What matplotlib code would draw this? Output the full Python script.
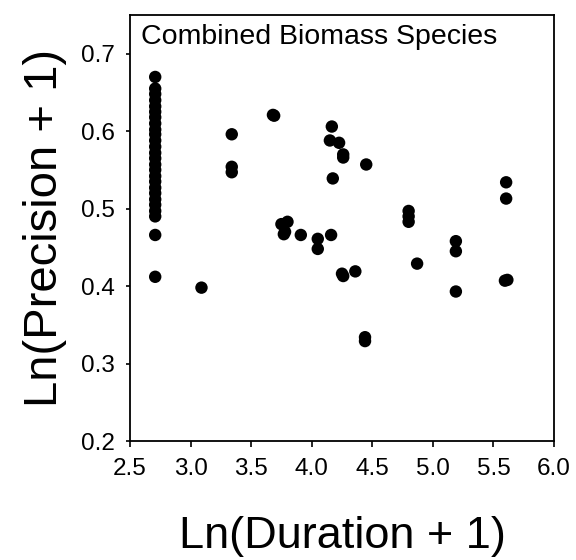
import matplotlib
matplotlib.use("Agg")
import matplotlib.pyplot as plt

plt.rcParams['font.family'] = ['Liberation Sans', 'DejaVu Sans']

# Ln(Duration + 1)
duration = [
    2.708, 2.708, 2.708, 2.708, 2.708, 2.708, 2.708, 2.708, 2.708, 2.708,
    2.708, 2.708, 2.708, 2.708, 2.708, 2.708, 2.708, 2.708, 2.708, 2.708,
    2.708, 2.708, 2.708, 2.708, 2.708, 2.708,
    3.09,
    3.34, 3.34, 3.34,
    3.68, 3.69,
    3.75, 3.80, 3.77, 3.78,
    3.91,
    4.05, 4.05,
    4.16, 4.166, 4.15, 4.226, 4.26, 4.26, 4.174,
    4.26, 4.25, 4.36,
    4.44, 4.44, 4.45,
    4.80, 4.80, 4.80, 4.87,
    5.19, 5.19, 5.19,
    5.605, 5.605, 5.595, 5.615,
]

# Ln(Precision + 1)
precision = [
    0.670, 0.655, 0.648, 0.640, 0.632, 0.625, 0.618, 0.610, 0.602, 0.596,
    0.588, 0.580, 0.572, 0.565, 0.557, 0.550, 0.542, 0.535, 0.527, 0.520,
    0.512, 0.505, 0.497, 0.490, 0.466, 0.412,
    0.398,
    0.596, 0.554, 0.547,
    0.621, 0.620,
    0.480, 0.483, 0.467, 0.470,
    0.466,
    0.461, 0.448,
    0.466, 0.606, 0.588, 0.585, 0.570, 0.566, 0.539,
    0.413, 0.416, 0.419,
    0.334, 0.329, 0.557,
    0.497, 0.490, 0.483, 0.429,
    0.458, 0.445, 0.393,
    0.534, 0.513, 0.407, 0.408,
]

xticks = [2.5, 3.0, 3.5, 4.0, 4.5, 5.0, 5.5, 6.0]
yticks = [0.2, 0.3, 0.4, 0.5, 0.6, 0.7]

fig = plt.figure(figsize=(5.76, 5.6), dpi=100)
ax = fig.add_axes([130/576, 1-441/560, (554-130)/576, (441-15)/560])

ax.scatter(duration, precision, s=80, color='black', edgecolors='none', zorder=3)

ax.set_xlim(2.5, 6.0)
ax.set_ylim(0.2, 0.75)
ax.set_xticks(xticks)
ax.set_yticks(yticks)
ax.set_xticklabels([f"{v:.1f}" for v in xticks])
ax.set_yticklabels([f"{v:.1f}" for v in yticks])
ax.tick_params(axis='x', direction='out', length=4.5, width=1.2, labelsize=17.5, pad=8)
ax.tick_params(axis='y', direction='out', length=3, width=1.2, labelsize=17.5, pad=8)
for sp in ax.spines.values():
    sp.set_linewidth(1.3)

ax.set_xlabel("Ln(Duration + 1)", fontsize=32.5, labelpad=26)
ax.set_ylabel("Ln(Precision + 1)", fontsize=34, labelpad=10)

ax.text(0.026, 0.978, "Combined Biomass Species", transform=ax.transAxes,
        fontsize=20.5, ha='left', va='top')

fig.savefig("out.png", dpi=100)
